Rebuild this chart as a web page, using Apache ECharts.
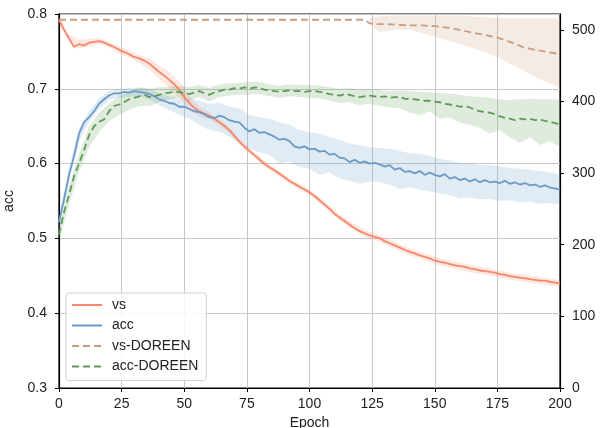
<!DOCTYPE html>
<html><head><meta charset="utf-8">
<script src="https://cdn.jsdelivr.net/npm/echarts@6/dist/echarts.min.js"></script>
<style>html,body{margin:0;padding:0;background:#fff}#c{width:600px;height:428px}</style>
</head><body><div id="c"></div>
<script>
// line data: one value every 2 epochs, epochs 0..200
const lineStep = 2;
const vs = [514,500,488,476,480,478,482,483,484,482,479,476,472,469,466,462,460,457,453,447,441,436,430,424,416,406,398,391,386,383,380,376,371,366,360,352,344,337,331,325,319,313,308,304,299,294,289,285,281,277,273,268,262,256,250,243,238,233,228,223,219,216,213,211,209,205,202,199,196,193,190,188,185,183,181,178,176,175,173,171,170,169,167,166,164,163,162,161,159,158,156,155,154,153,152,151,150,150,148,147,146];
const acc = [0.522,0.552,0.585,0.610,0.640,0.655,0.662,0.670,0.680,0.686,0.691,0.694,0.694,0.696,0.695,0.697,0.696,0.695,0.693,0.690,0.686,0.684,0.681,0.680,0.676,0.676,0.673,0.670,0.669,0.666,0.662,0.661,0.664,0.662,0.658,0.656,0.655,0.648,0.643,0.646,0.641,0.642,0.639,0.636,0.632,0.633,0.630,0.623,0.621,0.623,0.619,0.620,0.616,0.617,0.612,0.613,0.608,0.607,0.602,0.605,0.601,0.603,0.600,0.601,0.599,0.596,0.598,0.592,0.594,0.589,0.590,0.587,0.590,0.585,0.588,0.585,0.583,0.586,0.580,0.582,0.578,0.580,0.576,0.579,0.575,0.578,0.575,0.576,0.574,0.577,0.573,0.575,0.572,0.574,0.571,0.572,0.569,0.571,0.568,0.567,0.565];
const accD = [0.505,0.535,0.558,0.583,0.600,0.618,0.638,0.650,0.656,0.659,0.670,0.677,0.679,0.682,0.686,0.688,0.690,0.692,0.689,0.690,0.692,0.694,0.695,0.696,0.696,0.694,0.693,0.695,0.697,0.694,0.692,0.695,0.697,0.699,0.699,0.701,0.700,0.702,0.700,0.702,0.701,0.699,0.698,0.697,0.696,0.697,0.698,0.697,0.697,0.696,0.697,0.697,0.696,0.695,0.693,0.692,0.691,0.693,0.692,0.690,0.689,0.690,0.691,0.690,0.689,0.690,0.688,0.689,0.689,0.687,0.686,0.686,0.685,0.684,0.684,0.683,0.682,0.680,0.679,0.678,0.676,0.677,0.675,0.672,0.670,0.669,0.668,0.666,0.663,0.661,0.660,0.658,0.660,0.659,0.660,0.658,0.659,0.657,0.656,0.654,0.652];
const vsDEpoch = [0,122,124,126,128,130,135,140,145,150,155,160,165,170,175,180,185,190,195,200];
const vsD = [514,514,509,508,508,508,507,506,506,505,503,500,496,493,489,483,476,472,469,466];

// band data: one value every 4 epochs, epochs 0..200
const bandStep = 4;
const vsLo = [511,483,474,477,480,475,467,461,454,445,431,419,405,388,379,375,367,356,340,327,315,304,295,285,277,269,258,246,234,224,215,208,204,197,191,185,181,176,171,168,165,162,159,157,154,151,149,147,145,143,142];
const vsHi = [517,493,486,487,488,483,477,471,465,460,450,441,428,408,393,385,375,364,348,335,323,312,303,293,285,277,267,255,243,233,224,218,214,207,201,195,190,186,181,178,175,172,169,167,164,161,159,157,155,153,150];
const accLo = [0.512,0.575,0.630,0.655,0.673,0.685,0.688,0.689,0.690,0.686,0.678,0.672,0.665,0.660,0.652,0.645,0.643,0.636,0.628,0.620,0.615,0.612,0.600,0.603,0.595,0.593,0.585,0.588,0.580,0.577,0.573,0.576,0.575,0.572,0.566,0.568,0.565,0.563,0.560,0.558,0.553,0.555,0.552,0.553,0.550,0.551,0.548,0.549,0.546,0.547,0.545];
const accHi = [0.530,0.594,0.648,0.670,0.687,0.697,0.700,0.701,0.702,0.700,0.694,0.690,0.687,0.686,0.684,0.680,0.681,0.676,0.674,0.665,0.662,0.660,0.655,0.652,0.645,0.642,0.640,0.636,0.632,0.627,0.625,0.622,0.621,0.620,0.617,0.614,0.613,0.610,0.606,0.604,0.601,0.600,0.598,0.598,0.596,0.594,0.593,0.592,0.590,0.588,0.585];
const accDLo = [0.497,0.545,0.588,0.622,0.642,0.657,0.665,0.672,0.677,0.677,0.682,0.686,0.688,0.684,0.689,0.683,0.689,0.691,0.692,0.692,0.693,0.690,0.688,0.690,0.689,0.688,0.687,0.684,0.681,0.682,0.678,0.680,0.677,0.675,0.674,0.668,0.665,0.670,0.660,0.662,0.655,0.652,0.648,0.640,0.645,0.635,0.628,0.635,0.625,0.630,0.622];
const accDHi = [0.515,0.570,0.612,0.650,0.668,0.680,0.690,0.697,0.701,0.700,0.702,0.703,0.704,0.702,0.705,0.701,0.706,0.707,0.708,0.709,0.709,0.706,0.704,0.706,0.705,0.705,0.704,0.702,0.700,0.701,0.699,0.700,0.698,0.697,0.698,0.697,0.696,0.695,0.694,0.693,0.692,0.690,0.689,0.688,0.686,0.685,0.686,0.687,0.686,0.686,0.685];
const vsDBandEpoch = [124,126,128,132,136,140,144,148,152,156,160,164,168,172,176,180,184,188,192,196,200];
const vsDLo = [512,502,497,499,500,500,496,492,488,484,480,476,471,466,460,453,446,438,431,425,419];
const vsDHi = [516,518,519,520,520,520,520,520,520,520,520,519,518,517,516,516,516,516,516,516,516];

const xTicks = [0,25,50,75,100,125,150,175,200];
const leftTicks = [0.3,0.4,0.5,0.6,0.7,0.8];
const rightTicks = [0,100,200,300,400,500];

const C = {vs:'#f7866a', acc:'#6a9ac8', vsD:'#cc9c7e', accD:'#5e9a57'};
const FONT = 'Liberation Sans, Arial, sans-serif';

function pairs(xs, ys){ return ys.map((v,i)=>[xs[i], v]); }
function stepX(n, step){ const a=[]; for(let i=0;i<n;i++) a.push(i*step); return a; }

function band(xs, lo, hi, color, yIdx){
  return {
    type:'custom', yAxisIndex:yIdx, silent:true, z:1, clip:true,
    data:[[xs[0], lo[0]]],
    renderItem:function(params, api){
      const pts=[];
      for(let i=0;i<xs.length;i++) pts.push(api.coord([xs[i], hi[i]]));
      for(let i=xs.length-1;i>=0;i--) pts.push(api.coord([xs[i], lo[i]]));
      return {type:'polygon', shape:{points:pts}, style:{fill:color, opacity:0.2}};
    }
  };
}

const lx = stepX(vs.length, lineStep);
const bx = stepX(vsLo.length, bandStep);

const chart = echarts.init(document.getElementById('c'), null, {renderer:'canvas'});
chart.setOption({
  animation:false,
  textStyle:{fontFamily:FONT},
  grid:{left:59, right:40, top:14, bottom:40, containLabel:false, outerBoundsMode:'none',
        show:true, borderColor:'#000', borderWidth:1.2, backgroundColor:'transparent'},
  legend:{
    orient:'vertical', left:66, top:293,
    data:['vs','acc','vs-DOREEN','acc-DOREEN'],
    itemWidth:30, itemHeight:14, itemGap:6.5,
    padding:[5,8,7,5],
    itemStyle:{opacity:0},
    backgroundColor:'rgba(255,255,255,0.85)', borderColor:'#d0d0d0', borderWidth:1, borderRadius:3,
    textStyle:{fontFamily:FONT, fontSize:14, color:'#222', padding:[0,0,0,5]}
  },
  xAxis:{
    type:'value', min:0, max:200, interval:25,
    name:'Epoch', nameLocation:'middle', nameGap:27,
    nameTextStyle:{fontFamily:FONT, fontSize:14, color:'#222'},
    axisLine:{show:true, lineStyle:{color:'#000', width:1.2}},
    axisTick:{show:true, length:4, lineStyle:{color:'#000'}, customValues:xTicks},
    axisLabel:{margin:9, fontSize:14, color:'#222', fontFamily:FONT, customValues:xTicks},
    splitLine:{show:true, lineStyle:{color:'#c8c8c8', width:1}}
  },
  yAxis:[{
    type:'value', min:0.3, max:0.8, interval:0.1, position:'left',
    name:'acc', nameLocation:'middle', nameGap:38, nameRotate:90,
    nameTextStyle:{fontFamily:FONT, fontSize:14, color:'#222'},
    axisLine:{show:true, lineStyle:{color:'#000', width:1.2}},
    axisTick:{show:true, length:4, lineStyle:{color:'#000'}, customValues:leftTicks},
    axisLabel:{margin:12, fontSize:14, color:'#222', fontFamily:FONT, customValues:leftTicks, formatter:v=>v.toFixed(1)},
    splitLine:{show:true, lineStyle:{color:'#c8c8c8', width:1}}
  },{
    type:'value', min:0, max:522, position:'right',
    axisLine:{show:true, lineStyle:{color:'#000', width:1.2}},
    axisTick:{show:true, length:4, lineStyle:{color:'#000'}, customValues:rightTicks},
    axisLabel:{margin:12, fontSize:14, color:'#222', fontFamily:FONT, customValues:rightTicks},
    splitLine:{show:false}
  }],
  series:[
    band(bx, vsLo, vsHi, C.vs, 1),
    band(bx, accLo, accHi, C.acc, 0),
    band(vsDBandEpoch, vsDLo, vsDHi, C.vsD, 1),
    band(bx, accDLo, accDHi, C.accD, 0),
    {name:'vs', type:'line', yAxisIndex:1, symbol:'none', z:3, data:pairs(lx, vs), lineStyle:{color:C.vs, width:1.8}, itemStyle:{color:C.vs}},
    {name:'acc', type:'line', yAxisIndex:0, symbol:'none', z:3, data:pairs(lx, acc), lineStyle:{color:C.acc, width:1.8}, itemStyle:{color:C.acc}},
    {name:'vs-DOREEN', type:'line', yAxisIndex:1, symbol:'none', z:3, data:pairs(vsDEpoch, vsD), lineStyle:{color:C.vsD, width:1.8, type:[7,4]}, itemStyle:{color:C.vsD}},
    {name:'acc-DOREEN', type:'line', yAxisIndex:0, symbol:'none', z:3, data:pairs(lx, accD), lineStyle:{color:C.accD, width:1.8, type:[7,4]}, itemStyle:{color:C.accD}}
  ]
});
</script></body></html>
